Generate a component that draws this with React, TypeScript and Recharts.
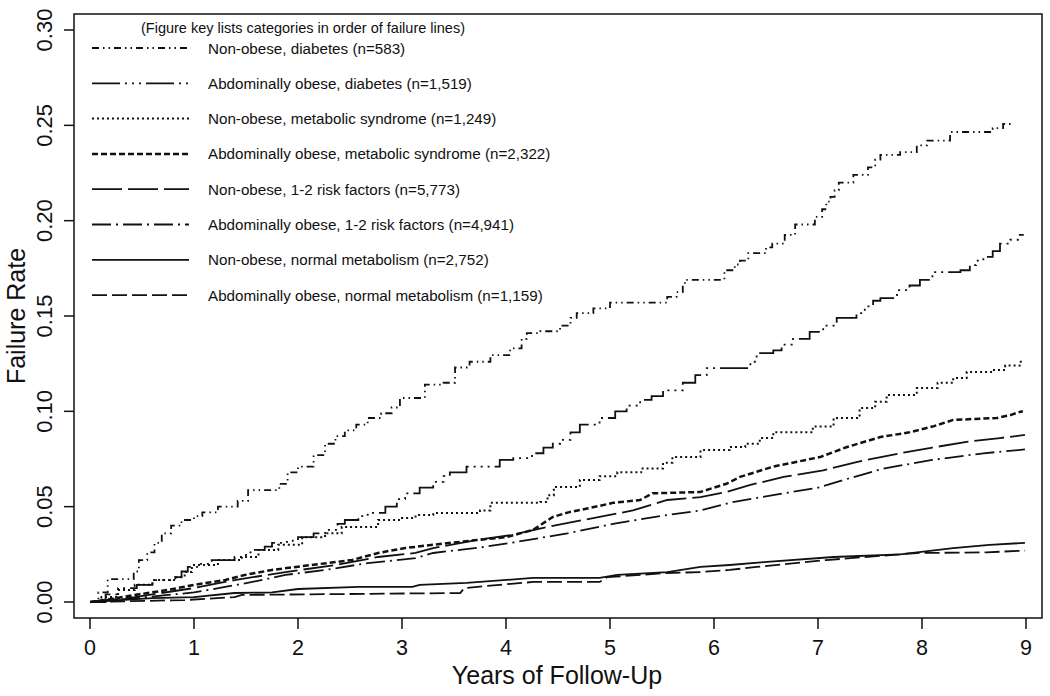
import React from "react";
import {
  LineChart,
  Line,
  XAxis,
  YAxis,
  ReferenceArea,
  Customized,
} from "recharts";

// axis ticks
const yearTicks = [0, 1, 2, 3, 4, 5, 6, 7, 8, 9];
const rateTicks = [0, 0.05, 0.1, 0.15, 0.2, 0.25, 0.3];

const legendTitle = "(Figure key lists categories in order of failure lines)";
const groupLabels = [
  "Non-obese, diabetes (n=583)",
  "Abdominally obese, diabetes (n=1,519)",
  "Non-obese, metabolic syndrome (n=1,249)",
  "Abdominally obese, metabolic syndrome (n=2,322)",
  "Non-obese, 1-2 risk factors (n=5,773)",
  "Abdominally obese, 1-2 risk factors (n=4,941)",
  "Non-obese, normal metabolism (n=2,752)",
  "Abdominally obese, normal metabolism (n=1,159)",
];

// Non-obese, diabetes
const t1 = [0, 0.08, 0.17, 0.42, 0.47, 0.55, 0.62, 0.69, 0.78, 0.88, 1.0, 1.08, 1.23, 1.42, 1.52, 1.82, 1.9, 2.0, 2.15, 2.26, 2.36, 2.45, 2.56, 2.67, 2.8, 2.9, 2.98, 3.22, 3.4, 3.51, 3.65, 3.85, 4.04, 4.15, 4.2, 4.33, 4.52, 4.62, 4.68, 4.84, 5.0, 5.55, 5.64, 5.7, 5.72, 6.1, 6.2, 6.25, 6.33, 6.5, 6.56, 6.68, 6.78, 6.97, 7.04, 7.08, 7.12, 7.16, 7.2, 7.34, 7.48, 7.55, 7.6, 7.79, 7.95, 8.05, 8.27, 8.68, 8.78, 8.86];
const v1 = [0, 0.005, 0.012, 0.016, 0.022, 0.026, 0.031, 0.036, 0.04, 0.043, 0.045, 0.047, 0.05, 0.053, 0.0587, 0.062, 0.068, 0.071, 0.077, 0.083, 0.087, 0.09, 0.093, 0.0965, 0.099, 0.102, 0.107, 0.114, 0.115, 0.123, 0.126, 0.1295, 0.133, 0.138, 0.141, 0.142, 0.145, 0.149, 0.1515, 0.154, 0.157, 0.16, 0.1625, 0.166, 0.169, 0.174, 0.177, 0.179, 0.183, 0.186, 0.188, 0.1925, 0.198, 0.202, 0.206, 0.21, 0.2125, 0.216, 0.22, 0.224, 0.228, 0.232, 0.2345, 0.236, 0.2395, 0.242, 0.2465, 0.2485, 0.2507, 0.2507];

// Abdominally obese, diabetes
const t2 = [0, 0.15, 0.27, 0.45, 0.6, 0.82, 0.88, 0.94, 1.05, 1.17, 1.39, 1.5, 1.56, 1.68, 1.75, 1.88, 1.95, 2.0, 2.15, 2.26, 2.38, 2.45, 2.58, 2.67, 2.84, 2.95, 3.03, 3.17, 3.3, 3.4, 3.46, 3.62, 3.94, 4.07, 4.25, 4.36, 4.45, 4.52, 4.62, 4.71, 4.9, 5.05, 5.16, 5.29, 5.4, 5.51, 5.7, 5.82, 5.93, 6.35, 6.41, 6.57, 6.65, 6.76, 6.92, 7.05, 7.18, 7.37, 7.45, 7.53, 7.6, 7.76, 7.88, 7.98, 8.1, 8.37, 8.46, 8.52, 8.59, 8.68, 8.75, 8.85, 8.94, 8.97];
const v2 = [0, 0.004, 0.0073, 0.009, 0.0115, 0.013, 0.016, 0.0184, 0.02, 0.022, 0.0236, 0.026, 0.0273, 0.029, 0.031, 0.0315, 0.033, 0.034, 0.036, 0.0378, 0.041, 0.043, 0.045, 0.0467, 0.05, 0.054, 0.057, 0.06, 0.063, 0.066, 0.068, 0.071, 0.0745, 0.0755, 0.078, 0.081, 0.083, 0.085, 0.089, 0.093, 0.0965, 0.1, 0.103, 0.106, 0.108, 0.111, 0.115, 0.119, 0.1227, 0.126, 0.1305, 0.132, 0.135, 0.138, 0.1417, 0.145, 0.149, 0.1515, 0.155, 0.158, 0.1594, 0.1636, 0.166, 0.169, 0.173, 0.174, 0.1767, 0.179, 0.181, 0.184, 0.188, 0.19, 0.1925, 0.193];

// Non-obese, metabolic syndrome
const t3 = [0, 0.11, 0.27, 0.43, 0.6, 0.82, 0.91, 0.98, 1.23, 1.46, 1.62, 1.81, 2.04, 2.26, 2.42, 2.77, 3.0, 3.13, 3.3, 3.75, 3.85, 4.33, 4.4, 4.46, 4.71, 4.9, 5.07, 5.3, 5.51, 5.6, 5.87, 6.15, 6.3, 6.44, 6.57, 6.95, 7.15, 7.4, 7.55, 7.66, 7.95, 8.15, 8.3, 8.43, 8.68, 8.8, 8.94, 8.97];
const v3 = [0, 0.0026, 0.0063, 0.009, 0.0115, 0.013, 0.0157, 0.0194, 0.022, 0.0236, 0.0273, 0.03, 0.034, 0.036, 0.0393, 0.043, 0.044, 0.0456, 0.0467, 0.048, 0.052, 0.0525, 0.056, 0.0603, 0.064, 0.066, 0.068, 0.07, 0.073, 0.076, 0.0797, 0.0813, 0.083, 0.086, 0.089, 0.092, 0.0965, 0.1017, 0.105, 0.1086, 0.1122, 0.115, 0.1175, 0.1206, 0.1217, 0.124, 0.126, 0.127];

// Abdominally obese, metabolic syndrome
const t4 = [0, 0.14, 0.43, 0.75, 1.0, 1.3, 1.49, 1.75, 2.13, 2.52, 2.77, 3.03, 3.3, 3.72, 4.0, 4.26, 4.35, 4.45, 4.6, 4.78, 5.03, 5.29, 5.41, 5.87, 6.0, 6.12, 6.25, 6.57, 7.02, 7.28, 7.6, 7.88, 8.1, 8.3, 8.72, 8.85, 8.94, 8.97];
const v4 = [0, 0.001, 0.0037, 0.0063, 0.009, 0.0115, 0.0142, 0.0168, 0.0194, 0.022, 0.0257, 0.0283, 0.03, 0.0325, 0.034, 0.0378, 0.041, 0.0446, 0.047, 0.049, 0.052, 0.0535, 0.057, 0.0577, 0.06, 0.062, 0.0656, 0.071, 0.076, 0.0813, 0.0865, 0.089, 0.092, 0.0955, 0.0965, 0.098, 0.0997, 0.1];

// Non-obese, 1-2 risk factors
const t5 = [0, 0.43, 1.0, 1.39, 1.88, 2.36, 2.77, 3.13, 3.3, 3.72, 4.04, 4.39, 4.74, 5.22, 5.55, 5.87, 6.12, 6.35, 6.67, 7.05, 7.37, 7.79, 8.1, 8.43, 8.75, 8.99];
const v5 = [0, 0.0026, 0.0073, 0.0115, 0.0157, 0.0194, 0.0236, 0.0257, 0.0283, 0.0325, 0.035, 0.0393, 0.043, 0.048, 0.0535, 0.055, 0.0577, 0.0614, 0.0656, 0.069, 0.0734, 0.078, 0.081, 0.084, 0.086, 0.0876];

// Abdominally obese, 1-2 risk factors
const t6 = [0, 0.43, 1.0, 1.3, 1.56, 1.88, 2.26, 2.67, 3.13, 3.3, 3.78, 4.1, 4.59, 5.07, 5.55, 5.87, 6.18, 6.67, 6.99, 7.31, 7.63, 8.1, 8.59, 8.99];
const v6 = [0, 0.002, 0.005, 0.0079, 0.0105, 0.0142, 0.0168, 0.0204, 0.023, 0.0257, 0.0288, 0.0315, 0.036, 0.0414, 0.0456, 0.048, 0.0524, 0.057, 0.0598, 0.065, 0.07, 0.0745, 0.078, 0.08];

// Non-obese, normal metabolism
const t7 = [0, 0.6, 1.0, 1.39, 1.75, 2.0, 2.58, 3.1, 3.17, 3.62, 4.26, 4.9, 5.07, 5.55, 5.87, 6.15, 6.51, 7.15, 7.79, 8.3, 8.65, 8.99];
const v7 = [0, 0.002, 0.0026, 0.0047, 0.005, 0.0068, 0.0079, 0.0079, 0.009, 0.01, 0.0126, 0.0126, 0.0142, 0.0157, 0.0184, 0.0194, 0.021, 0.0236, 0.025, 0.0283, 0.03, 0.031];

// Abdominally obese, normal metabolism
const t8 = [0, 0.91, 1.39, 1.46, 3.56, 3.6, 3.94, 4.26, 4.9, 4.97, 5.55, 5.87, 6.15, 6.41, 7.08, 7.95, 8.62, 8.99];
const v8 = [0, 0.001, 0.0026, 0.0037, 0.0047, 0.0073, 0.009, 0.0105, 0.0105, 0.013, 0.0152, 0.0157, 0.0168, 0.0184, 0.022, 0.0257, 0.026, 0.027];

const zip = (ts: number[], vs: number[]) => ts.map((t, i) => ({ t, v: vs[i] }));

const series = [
  { data: zip(t1, v1), dash: "7 4 1.5 4 1.5 4", width: 1.8, type: "stepAfter" },
  { data: zip(t2, v2), dash: "28 5 2 5 2 5 2 5", width: 1.8, type: "stepAfter" },
  { data: zip(t3, v3), dash: "2 3", width: 2, type: "stepAfter" },
  { data: zip(t4, v4), dash: "6 3", width: 2.5, type: "linear" },
  { data: zip(t5, v5), dash: "30 6", width: 1.8, type: "linear" },
  { data: zip(t6, v6), dash: "19 5 2 5", width: 1.8, type: "linear" },
  { data: zip(t7, v7), dash: undefined, width: 1.8, type: "linear" },
  { data: zip(t8, v8), dash: "15 5", width: 1.8, type: "linear" },
];

const FONT = "'Liberation Sans', Arial, sans-serif";
const INK = "#111";

const YTick = (props: any) => {
  const { y, payload } = props;
  return (
    <text
      x={52}
      y={y}
      transform={`rotate(-90, 52, ${y})`}
      textAnchor="middle"
      fontSize={22}
      fontFamily={FONT}
      fill={INK}
    >
      {payload.value.toFixed(2)}
    </text>
  );
};

const XTick = (props: any) => {
  const { x, payload } = props;
  return (
    <text x={x} y={655} textAnchor="middle" fontSize={21.5} fontFamily={FONT} fill={INK}>
      {payload.value}
    </text>
  );
};

// key box and axis titles, drawn at fixed page positions
const Decorations = () => (
  <g fontFamily={FONT} fill={INK}>
    <text x={141} y={33} fontSize={14.5}>
      {legendTitle}
    </text>
    {groupLabels.map((label, i) => {
      const y = 48 + i * 35.3;
      const s = series[i];
      return (
        <g key={label}>
          <line
            x1={92}
            x2={189}
            y1={y}
            y2={y}
            stroke={INK}
            strokeWidth={s.width}
            strokeDasharray={s.dash}
          />
          <text x={208} y={y + 5.5} fontSize={15.2}>
            {label}
          </text>
        </g>
      );
    })}
    <text x={557} y={684} textAnchor="middle" fontSize={25}>
      Years of Follow-Up
    </text>
    <text x={25} y={316} transform="rotate(-90, 25, 316)" textAnchor="middle" fontSize={25}>
      Failure Rate
    </text>
  </g>
);

export default function App() {
  return (
    <div style={{ position: "absolute", left: 0, top: 0, background: "#fff" }}>
      <LineChart width={1050} height={696} margin={{ top: 14, right: 8, left: 0, bottom: 0 }}>
        <XAxis
          dataKey="t"
          type="number"
          domain={[-0.154, 9.154]}
          ticks={yearTicks}
          axisLine={false}
          tickLine={{ stroke: INK, strokeWidth: 1.5 }}
          tickSize={11}
          tick={<XTick />}
          height={78}
          allowDataOverflow
        />
        <YAxis
          type="number"
          domain={[-0.0084, 0.3084]}
          ticks={rateTicks}
          axisLine={false}
          tickLine={{ stroke: INK, strokeWidth: 1.5 }}
          tickSize={10}
          tick={<YTick />}
          width={74}
          allowDataOverflow
        />
        <ReferenceArea
          x1={-0.154}
          x2={9.154}
          y1={-0.0084}
          y2={0.3084}
          fill="none"
          stroke={INK}
          strokeWidth={1.5}
          ifOverflow="visible"
        />
        {series.map((s, i) => (
          <Line
            key={i}
            data={s.data}
            dataKey="v"
            type={s.type as any}
            stroke={INK}
            strokeWidth={s.width}
            strokeDasharray={s.dash}
            dot={false}
            activeDot={false}
            isAnimationActive={false}
          />
        ))}
        <Customized component={Decorations} />
      </LineChart>
    </div>
  );
}
